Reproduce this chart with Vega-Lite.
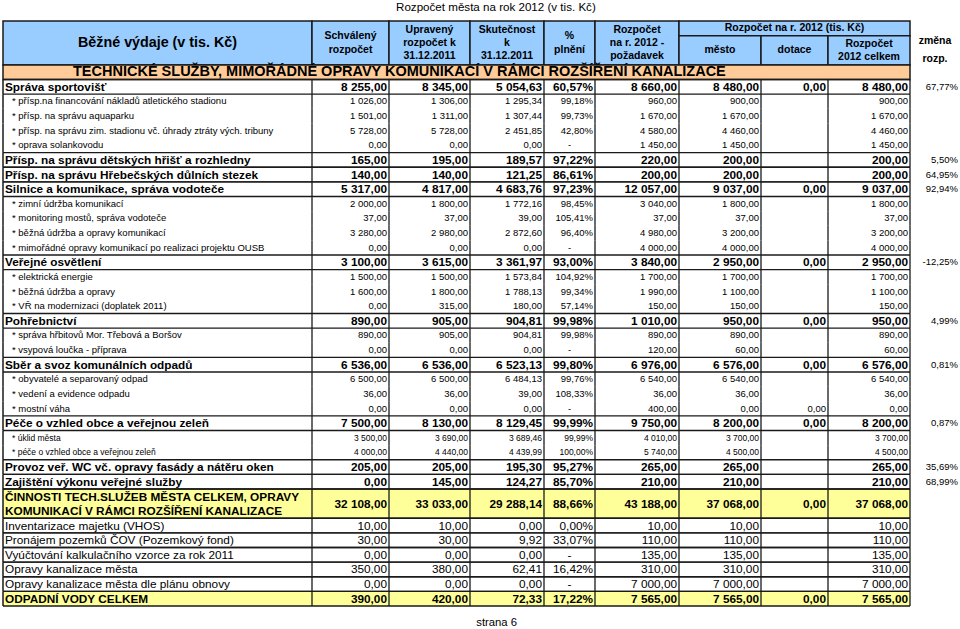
{
  "$schema": "https://vega.github.io/schema/vega-lite/v6.json",
  "width": 960,
  "height": 629,
  "autosize": {"type": "none"},
  "padding": 0,
  "background": "white",
  "config": {
    "view": {"stroke": null},
    "axis": {"disable": true},
    "text": {"font": "Liberation Sans", "color": "#000000"},
    "locale": {"number": {"decimal": ",", "thousands": " ", "grouping": [3], "currency": ["", ""], "minus": "-", "percent": "%"}}
  },
  "datasets": {
    "rows": [
      {"r": 4, "h": 1, "kind": "g", "label": "Správa sportovišť", "B": 8255, "C": 8345, "D": 5054.63, "E": 0.6057, "F": 8660, "G": 8480, "H": 0, "I": 8480, "J": 0.6777},
      {"r": 5, "h": 1, "kind": "s", "label": "* přísp.na financování nákladů atletického stadionu", "B": 1026, "C": 1306, "D": 1295.34, "E": 0.9918, "F": 960, "G": 900, "H": null, "I": 900, "J": null},
      {"r": 6, "h": 1, "kind": "s", "label": "* přísp. na správu aquaparku", "B": 1501, "C": 1311, "D": 1307.44, "E": 0.9973, "F": 1670, "G": 1670, "H": null, "I": 1670, "J": null},
      {"r": 7, "h": 1, "kind": "s", "label": "* přísp. na správu zim. stadionu vč. úhrady ztráty  vých. tribuny", "B": 5728, "C": 5728, "D": 2451.85, "E": 0.428, "F": 4580, "G": 4460, "H": null, "I": 4460, "J": null},
      {"r": 8, "h": 1, "kind": "s", "label": "* oprava solankovodu", "B": 0, "C": 0, "D": 0, "E": null, "F": 1450, "G": 1450, "H": null, "I": 1450, "J": null},
      {"r": 9, "h": 1, "kind": "g", "label": "Přísp. na správu dětských hřišť a rozhledny", "B": 165, "C": 195, "D": 189.57, "E": 0.9722, "F": 220, "G": 200, "H": null, "I": 200, "J": 0.055},
      {"r": 10, "h": 1, "kind": "g", "label": "Přísp. na správu Hřebečských důlních stezek", "B": 140, "C": 140, "D": 121.25, "E": 0.8661, "F": 200, "G": 200, "H": null, "I": 200, "J": 0.6495},
      {"r": 11, "h": 1, "kind": "g", "label": "Silnice a komunikace, správa vodoteče", "B": 5317, "C": 4817, "D": 4683.76, "E": 0.9723, "F": 12057, "G": 9037, "H": 0, "I": 9037, "J": 0.9294},
      {"r": 12, "h": 1, "kind": "s", "label": "* zimní údržba komunikací", "B": 2000, "C": 1800, "D": 1772.16, "E": 0.9845, "F": 3040, "G": 1800, "H": null, "I": 1800, "J": null},
      {"r": 13, "h": 1, "kind": "s", "label": "* monitoring mostů, správa vodoteče", "B": 37, "C": 37, "D": 39, "E": 1.0541, "F": 37, "G": 37, "H": null, "I": 37, "J": null},
      {"r": 14, "h": 1, "kind": "s", "label": "* běžná údržba a opravy komunikací", "B": 3280, "C": 2980, "D": 2872.6, "E": 0.964, "F": 4980, "G": 3200, "H": null, "I": 3200, "J": null},
      {"r": 15, "h": 1, "kind": "s", "label": "* mimořádné opravy komunikací po realizaci projektu OUSB", "B": 0, "C": 0, "D": 0, "E": null, "F": 4000, "G": 4000, "H": null, "I": 4000, "J": null},
      {"r": 16, "h": 1, "kind": "g", "label": "Veřejné osvětlení", "B": 3100, "C": 3615, "D": 3361.97, "E": 0.93, "F": 3840, "G": 2950, "H": 0, "I": 2950, "J": -0.1225},
      {"r": 17, "h": 1, "kind": "s", "label": "* elektrická energie", "B": 1500, "C": 1500, "D": 1573.84, "E": 1.0492, "F": 1700, "G": 1700, "H": null, "I": 1700, "J": null},
      {"r": 18, "h": 1, "kind": "s", "label": "* běžná údržba a opravy", "B": 1600, "C": 1800, "D": 1788.13, "E": 0.9934, "F": 1990, "G": 1100, "H": null, "I": 1100, "J": null},
      {"r": 19, "h": 1, "kind": "s", "label": "* VŘ na modernizaci (doplatek 2011)", "B": 0, "C": 315, "D": 180, "E": 0.5714, "F": 150, "G": 150, "H": null, "I": 150, "J": null},
      {"r": 20, "h": 1, "kind": "g", "label": "Pohřebnictví", "B": 890, "C": 905, "D": 904.81, "E": 0.9998, "F": 1010, "G": 950, "H": 0, "I": 950, "J": 0.0499},
      {"r": 21, "h": 1, "kind": "s", "label": "* správa hřbitovů  Mor. Třebová a Boršov", "B": 890, "C": 905, "D": 904.81, "E": 0.9998, "F": 890, "G": 890, "H": null, "I": 890, "J": null},
      {"r": 22, "h": 1, "kind": "s", "label": "* vsypová loučka - příprava", "B": 0, "C": 0, "D": 0, "E": null, "F": 120, "G": 60, "H": null, "I": 60, "J": null},
      {"r": 23, "h": 1, "kind": "g", "label": "Sběr a svoz komunálních odpadů", "B": 6536, "C": 6536, "D": 6523.13, "E": 0.998, "F": 6976, "G": 6576, "H": 0, "I": 6576, "J": 0.0081},
      {"r": 24, "h": 1, "kind": "s", "label": "* obyvatelé a separovaný odpad", "B": 6500, "C": 6500, "D": 6484.13, "E": 0.9976, "F": 6540, "G": 6540, "H": null, "I": 6540, "J": null},
      {"r": 25, "h": 1, "kind": "s", "label": "* vedení a evidence odpadu", "B": 36, "C": 36, "D": 39, "E": 1.0833, "F": 36, "G": 36, "H": null, "I": 36, "J": null},
      {"r": 26, "h": 1, "kind": "s", "label": "* mostní váha", "B": 0, "C": 0, "D": 0, "E": null, "F": 400, "G": 0, "H": 0, "I": 0, "J": null},
      {"r": 27, "h": 1, "kind": "g", "label": "Péče o vzhled obce a veřejnou zeleň", "B": 7500, "C": 8130, "D": 8129.45, "E": 0.9999, "F": 9750, "G": 8200, "H": 0, "I": 8200, "J": 0.0087},
      {"r": 28, "h": 1, "kind": "s2", "label": "* úklid města", "B": 3500, "C": 3690, "D": 3689.46, "E": 0.9999, "F": 4010, "G": 3700, "H": null, "I": 3700, "J": null},
      {"r": 29, "h": 1, "kind": "s2", "label": "* péče o vzhled obce a veřejnou zeleň", "B": 4000, "C": 4440, "D": 4439.99, "E": 1.0, "F": 5740, "G": 4500, "H": null, "I": 4500, "J": null},
      {"r": 30, "h": 1, "kind": "g", "label": "Provoz veř. WC vč. opravy fasády a nátěru oken", "B": 205, "C": 205, "D": 195.3, "E": 0.9527, "F": 265, "G": 265, "H": null, "I": 265, "J": 0.3569},
      {"r": 31, "h": 1, "kind": "g", "label": "Zajištění výkonu veřejné služby", "B": 0, "C": 145, "D": 124.27, "E": 0.857, "F": 210, "G": 210, "H": null, "I": 210, "J": 0.6899},
      {"r": 32, "h": 2, "kind": "t", "label": ["ČINNOSTI TECH.SLUŽEB MĚSTA CELKEM, OPRAVY", "KOMUNIKACÍ V RÁMCI ROZŠÍŘENÍ KANALIZACE"], "B": 32108, "C": 33033, "D": 29288.14, "E": 0.8866, "F": 43188, "G": 37068, "H": 0, "I": 37068, "J": null},
      {"r": 34, "h": 1, "kind": "n", "label": "Inventarizace majetku  (VHOS)", "B": 10, "C": 10, "D": 0, "E": 0, "F": 10, "G": 10, "H": null, "I": 10, "J": null},
      {"r": 35, "h": 1, "kind": "n", "label": "Pronájem pozemků ČOV (Pozemkový fond)", "B": 30, "C": 30, "D": 9.92, "E": 0.3307, "F": 110, "G": 110, "H": null, "I": 110, "J": null},
      {"r": 36, "h": 1, "kind": "n", "label": "Vyúčtování kalkulačního vzorce za rok 2011", "B": 0, "C": 0, "D": 0, "E": null, "F": 135, "G": 135, "H": null, "I": 135, "J": null},
      {"r": 37, "h": 1, "kind": "n", "label": "Opravy kanalizace města", "B": 350, "C": 380, "D": 62.41, "E": 0.1642, "F": 310, "G": 310, "H": null, "I": 310, "J": null},
      {"r": 38, "h": 1, "kind": "n", "label": "Opravy kanalizace města dle plánu obnovy", "B": 0, "C": 0, "D": 0, "E": null, "F": 7000, "G": 7000, "H": null, "I": 7000, "J": null},
      {"r": 39, "h": 1, "kind": "t", "label": "ODPADNÍ VODY CELKEM", "B": 390, "C": 420, "D": 72.33, "E": 0.1722, "F": 7565, "G": 7565, "H": 0, "I": 7565, "J": null}
    ],
    "head": [
      {"lvl": "main", "lines": "Běžné výdaje (v tis. Kč)", "c0": 0, "c1": 1, "r0": 0, "r1": 3},
      {"lvl": "col", "lines": ["Schválený", "rozpočet"], "c0": 1, "c1": 2, "r0": 0, "r1": 3},
      {"lvl": "col", "lines": ["Upravený", "rozpočet k", "31.12.2011"], "c0": 2, "c1": 3, "r0": 0, "r1": 3},
      {"lvl": "col", "lines": ["Skutečnost", "k", "31.12.2011"], "c0": 3, "c1": 4, "r0": 0, "r1": 3},
      {"lvl": "col", "lines": ["%", "plnění"], "c0": 4, "c1": 5, "r0": 0, "r1": 3},
      {"lvl": "col", "lines": ["Rozpočet", "na r. 2012 -", "požadavek"], "c0": 5, "c1": 6, "r0": 0, "r1": 3},
      {"lvl": "col", "lines": "Rozpočet na r. 2012 (tis. Kč)", "c0": 6, "c1": 9, "r0": 0, "r1": 1},
      {"lvl": "col", "lines": "město", "c0": 6, "c1": 7, "r0": 1, "r1": 3},
      {"lvl": "col", "lines": "dotace", "c0": 7, "c1": 8, "r0": 1, "r1": 3},
      {"lvl": "col", "lines": ["Rozpočet", "2012 celkem"], "c0": 8, "c1": 9, "r0": 1, "r1": 3},
      {"lvl": "section", "lines": "TECHNICKÉ SLUŽBY, MIMOŘÁDNÉ OPRAVY KOMUNIKACÍ V RÁMCI ROZŠÍŘENÍ KANALIZACE", "c0": 0, "c1": 9, "r0": 3, "r1": 4},
      {"lvl": "side", "lines": ["změna", "rozp."], "c0": 9, "c1": 10, "r0": 1, "r1": 3}
    ]
  },
  "data": {"name": "rows"},
  "layer": [
    {
      "transform": [{"filter": "datum.kind == 't'"}, {"calculate": "datum.r + datum.h", "as": "r2"}],
      "mark": {"type": "rect", "fill": "#FFFF99"},
      "encoding": {
        "x": {"datum": 0, "type": "quantitative", "axis": null, "scale": {"domain": [0, 1, 2, 3, 4, 5, 6, 7, 8, 9, 10], "range": [3, 312, 389, 470, 544, 595, 679, 761, 828, 910, 960], "nice": false, "zero": false}},
        "x2": {"datum": 9},
        "y": {"field": "r", "type": "quantitative", "axis": null, "scale": {"domain": [0, 40], "range": [21, 606], "nice": false, "zero": false}},
        "y2": {"field": "r2"}
      }
    },
    {
      "data": {"name": "head"},
      "transform": [{"filter": "datum.lvl != 'side'"}],
      "mark": {"type": "rect", "stroke": "#1a1a1a", "strokeWidth": 1.5},
      "encoding": {
        "x": {"field": "c0", "type": "quantitative"},
        "x2": {"field": "c1"},
        "y": {"field": "r0", "type": "quantitative"},
        "y2": {"field": "r1"},
        "fill": {"field": "lvl", "type": "nominal", "legend": null, "scale": {"domain": ["main", "col", "section"], "range": ["#99CCFF", "#99CCFF", "#FFCC99"]}}
      }
    },
    {
      "transform": [
        {"filter": "datum.kind != 's' && datum.kind != 's2'"},
        {"calculate": "datum.r + datum.h", "as": "r2"},
        {"fold": ["r", "r2"], "as": ["edge", "yy"]}
      ],
      "mark": {"type": "rule", "color": "#1a1a1a", "strokeWidth": 1.3},
      "encoding": {
        "x": {"datum": 0, "type": "quantitative"},
        "x2": {"datum": 9},
        "y": {"field": "yy", "type": "quantitative"}
      }
    },
    {
      "transform": [
        {"calculate": "datum.r + datum.h", "as": "r2"},
        {"fold": ["label", "B", "C", "D", "E", "F", "G", "H", "I"], "as": ["key", "v"]},
        {"calculate": "indexof(['label','B','C','D','E','F','G','H','I'], datum.key) + 1", "as": "cr"}
      ],
      "mark": {"type": "rule", "color": "#1a1a1a", "strokeWidth": 1.3},
      "encoding": {
        "x": {"field": "cr", "type": "quantitative"},
        "y": {"field": "r", "type": "quantitative"},
        "y2": {"field": "r2"}
      }
    },
    {
      "transform": [{"calculate": "datum.r + datum.h", "as": "r2"}],
      "mark": {"type": "rule", "color": "#1a1a1a", "strokeWidth": 1.5},
      "encoding": {
        "x": {"datum": 0, "type": "quantitative"},
        "y": {"field": "r", "type": "quantitative"},
        "y2": {"field": "r2"}
      }
    },
    {
      "transform": [{"calculate": "datum.r + datum.h / 2", "as": "ym"}],
      "mark": {
        "type": "text", "align": "left", "baseline": "middle", "lineHeight": 14,
        "dx": {"expr": "datum.kind == 's' || datum.kind == 's2' ? 9 : 2"},
        "dy": {"expr": "isArray(datum.label) ? -7 : 0"},
        "fontSize": {"expr": "datum.kind == 's' ? 9.5 : datum.kind == 's2' ? 8.5 : 11.8"},
        "fontWeight": {"expr": "datum.kind == 'g' || datum.kind == 't' ? 'bold' : 'normal'"}
      },
      "encoding": {
        "x": {"datum": 0, "type": "quantitative"},
        "y": {"field": "ym", "type": "quantitative"},
        "text": {"field": "label"}
      }
    },
    {
      "transform": [
        {"fold": ["B", "C", "D", "F", "G", "H", "I"], "as": ["key", "v"]},
        {"filter": "isValid(datum.v)"},
        {"calculate": "indexof(['label','B','C','D','E','F','G','H','I'], datum.key) + 1", "as": "cr"},
        {"calculate": "datum.r + datum.h / 2", "as": "ym"}
      ],
      "mark": {
        "type": "text", "align": "right", "baseline": "middle", "dx": -2,
        "fontSize": {"expr": "datum.kind == 's' ? 9.5 : datum.kind == 's2' ? 8.5 : 11.8"},
        "fontWeight": {"expr": "datum.kind == 'g' || datum.kind == 't' ? 'bold' : 'normal'"}
      },
      "encoding": {
        "x": {"field": "cr", "type": "quantitative"},
        "y": {"field": "ym", "type": "quantitative"},
        "text": {"field": "v", "type": "quantitative", "format": ",.2f"}
      }
    },
    {
      "transform": [
        {"filter": "isValid(datum.E)"},
        {"calculate": "datum.r + datum.h / 2", "as": "ym"}
      ],
      "mark": {
        "type": "text", "align": "right", "baseline": "middle", "dx": -2,
        "fontSize": {"expr": "datum.kind == 's' ? 9.5 : datum.kind == 's2' ? 8.5 : 11.8"},
        "fontWeight": {"expr": "datum.kind == 'g' || datum.kind == 't' ? 'bold' : 'normal'"}
      },
      "encoding": {
        "x": {"datum": 5, "type": "quantitative"},
        "y": {"field": "ym", "type": "quantitative"},
        "text": {"field": "E", "type": "quantitative", "format": ".2%"}
      }
    },
    {
      "transform": [
        {"filter": "!isValid(datum.E)"},
        {"calculate": "datum.r + datum.h / 2", "as": "ym"}
      ],
      "mark": {
        "type": "text", "align": "center", "baseline": "middle",
        "fontSize": {"expr": "datum.kind == 's' ? 9.5 : 11.8"}
      },
      "encoding": {
        "x": {"datum": 4.5, "type": "quantitative"},
        "y": {"field": "ym", "type": "quantitative"},
        "text": {"value": "-"}
      }
    },
    {
      "transform": [
        {"filter": "isValid(datum.J)"},
        {"calculate": "datum.r + datum.h / 2", "as": "ym"}
      ],
      "mark": {"type": "text", "align": "right", "baseline": "middle", "dx": -2, "fontSize": 9.5},
      "encoding": {
        "x": {"datum": 10, "type": "quantitative"},
        "y": {"field": "ym", "type": "quantitative"},
        "text": {"field": "J", "type": "quantitative", "format": ".2%"}
      }
    },
    {
      "data": {"name": "head"},
      "transform": [
        {"calculate": "datum.lvl == 'section' ? datum.c0 : (datum.c0 + datum.c1) / 2", "as": "xm"},
        {"calculate": "(datum.r0 + datum.r1) / 2", "as": "ym"}
      ],
      "mark": {
        "type": "text", "baseline": "middle", "fontWeight": "bold",
        "align": {"expr": "datum.lvl == 'section' ? 'left' : 'center'"},
        "fontSize": {"expr": "datum.lvl == 'main' ? 14.3 : datum.lvl == 'section' ? 14.5 : 10.5"},
        "lineHeight": {"expr": "datum.lvl == 'side' ? 18 : 13.3"},
        "dx": {"expr": "datum.lvl == 'section' ? 70 : 0"},
        "dy": {"expr": "isArray(datum.lines) ? -(length(datum.lines) - 1) * (datum.lvl == 'side' ? 18 : 13.3) / 2 : 0"}
      },
      "encoding": {
        "x": {"field": "xm", "type": "quantitative"},
        "y": {"field": "ym", "type": "quantitative"},
        "text": {"field": "lines"}
      }
    },
    {
      "data": {"values": [{"t": "Rozpočet města na rok 2012 (v tis. Kč)"}]},
      "mark": {"type": "text", "align": "center", "baseline": "middle", "fontSize": 11.6},
      "encoding": {
        "x": {"datum": 3.35, "type": "quantitative"},
        "y": {"datum": -0.9, "type": "quantitative"},
        "text": {"field": "t"}
      }
    },
    {
      "data": {"values": [{"t": "strana 6"}]},
      "mark": {"type": "text", "align": "center", "baseline": "middle", "fontSize": 11.3},
      "encoding": {
        "x": {"datum": 3.36, "type": "quantitative"},
        "y": {"datum": 41.14, "type": "quantitative"},
        "text": {"field": "t"}
      }
    }
  ]
}
